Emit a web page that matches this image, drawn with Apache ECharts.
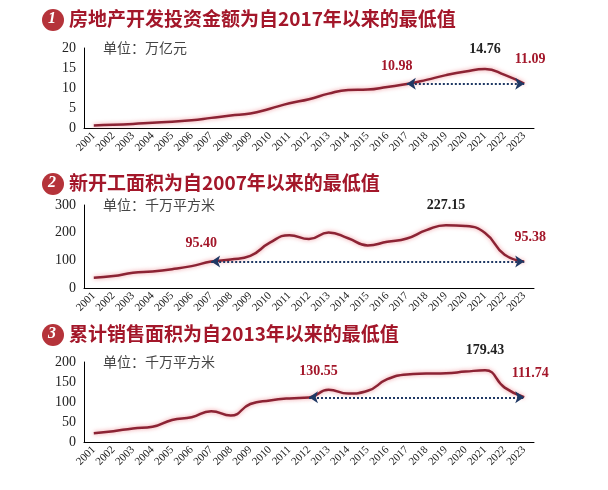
<!DOCTYPE html>
<html><head><meta charset="utf-8">
<script src="https://cdn.jsdelivr.net/npm/echarts@6/dist/echarts.min.js"></script>
<style>html,body{margin:0;background:#fff}#c{width:608px;height:490px}</style>
</head><body><div id="c"></div>
<script>
// 年份
var years = ['2001','2002','2003','2004','2005','2006','2007','2008','2009','2010','2011','2012','2013','2014','2015','2016','2017','2018','2019','2020','2021','2022','2023'];
// 房地产开发投资 万亿元
var invest = [0.63,0.79,1.02,1.32,1.59,1.94,2.53,3.12,3.62,4.83,6.18,7.18,8.60,9.50,9.60,10.26,10.98,12.03,13.22,14.14,14.76,13.29,11.09];
// 新开工面积 千万平方米
var newStart = [37,43,55,60,68,79,95.4,103,116,164,191,177,201,180,154,167,179,209,227.15,224,199,120,95.38];
// 累计销售面积 千万平方米
var sales = [22,27,34,38,55,62,77,66,95,104,109,111,130.55,121,128,157,169,171,172,176,179.43,136,111.74];

var titles = ['房地产开发投资金额为自2017年以来的最低值','新开工面积为自2007年以来的最低值','累计销售面积为自2013年以来的最低值'];
var units = ['单位：万亿元','单位：千万平方米','单位：千万平方米'];
var yMax = [20,300,200], yStep = [5,100,50];
var arrowFrom = ['2017','2007','2012'];
var lows = [['2017',10.98],['2007',95.40],['2013',130.55]];
var peaks = [['2021',14.76,'14.76'],['2019',227.15,'227.15'],['2021',179.43,'179.43']];
var lasts = [11.09,95.38,111.74];
var lowLabels = ['10.98','95.40','130.55'];
var lastLabels = ['11.09','95.38','111.74'];
var grids = [{top:48,height:80},{top:205,height:83},{top:362,height:80}];
var titleY = [20,184,335];

var serif = 'Liberation Serif';
var red = '#a3172a';
var chart = echarts.init(document.getElementById('c'));
var datas = [invest,newStart,sales];
var option = {grid:[],xAxis:[],yAxis:[],series:[],graphic:[],animation:false};
for (var i=0;i<3;i++){
	option.grid.push({left:84,width:450,top:grids[i].top,height:grids[i].height});
	option.xAxis.push({type:'category',gridIndex:i,data:years,boundaryGap:true,
		axisLine:{lineStyle:{color:'#000'}},axisTick:{show:false},
		axisLabel:{rotate:45,fontFamily:serif,fontSize:11,color:'#222',interval:0,margin:6}});
	option.yAxis.push({type:'value',gridIndex:i,min:0,max:yMax[i],interval:yStep[i],
		splitLine:{show:false},axisLine:{show:true,lineStyle:{color:'#000'}},axisTick:{show:false},
		axisLabel:{fontFamily:serif,fontSize:14,color:'#222'}});
	var d = datas[i];
	option.series.push({type:'line',xAxisIndex:i,yAxisIndex:i,data:d,smooth:true,showSymbol:false,
		lineStyle:{color:'#8c2334',width:2.5,shadowColor:'rgba(230,80,90,0.6)',shadowBlur:4},
		markLine:{silent:true,symbol:['arrow','arrow'],symbolSize:[9,9],label:{show:false},
			lineStyle:{type:'dotted',color:'#1f3864',width:2},
			data:[[{coord:[arrowFrom[i],lasts[i]]},{coord:['2023',lasts[i]]}]]},
		markPoint:{symbolSize:0,data:[
			{coord:[lows[i][0],lows[i][1]],label:{formatter:lowLabels[i],position:'top',offset:[-10,-6],color:red,fontFamily:serif,fontWeight:'bold',fontSize:14}},
			{coord:[peaks[i][0],peaks[i][1]],label:{formatter:peaks[i][2],position:'top',offset:[0,-8],color:'#222',fontFamily:serif,fontWeight:'bold',fontSize:14}},
			{coord:['2023',lasts[i]],label:{formatter:lastLabels[i],position:'top',offset:[6,-12],color:red,fontFamily:serif,fontWeight:'bold',fontSize:14}}
		]}});
	option.graphic.push({type:'circle',shape:{cx:53,cy:titleY[i],r:11},style:{fill:'#b5333a'}});
	option.graphic.push({type:'text',left:48,top:titleY[i]-9,style:{text:String(i+1),fill:'#fff',font:'italic bold 16px '+serif}});
	option.graphic.push({type:'text',left:69,top:titleY[i]-11,style:{text:titles[i],fill:red,font:'bold 19px "Noto Sans CJK SC"'}});
	option.graphic.push({type:'text',left:103,top:grids[i].top-7,style:{text:units[i],fill:'#444',font:'14px "Noto Sans CJK SC"'}});
}
chart.setOption(option);
</script></body></html>
